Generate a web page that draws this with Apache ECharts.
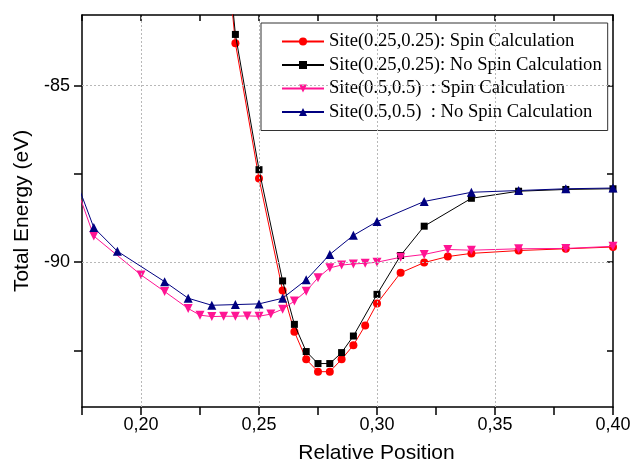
<!DOCTYPE html>
<html>
<head>
<meta charset="utf-8">
<script src="https://cdn.jsdelivr.net/npm/echarts@6/dist/echarts.min.js"></script>
<style>html,body{margin:0;padding:0;background:#fff}#c{width:632px;height:461px}</style>
</head>
<body>
<div id="c"></div>
<script>
// ---- data ----
const seriesNames = [
  'Site(0.25,0.25): Spin Calculation',
  'Site(0.25,0.25): No Spin Calculation',
  'Site(0.5,0.5)  : Spin Calculation',
  'Site(0.5,0.5)  : No Spin Calculation'
];
const redX = [0.23,0.24,0.25,0.26,0.265,0.27,0.275,0.28,0.285,0.29,0.295,0.30,0.31,0.32,0.33,0.34,0.36,0.38,0.40];
const redY = [-76.8,-83.80,-87.63,-90.80,-91.97,-92.75,-93.10,-93.10,-92.75,-92.35,-91.79,-91.17,-90.30,-90.01,-89.84,-89.75,-89.67,-89.62,-89.57];
const blackX = [0.23,0.24,0.25,0.26,0.265,0.27,0.275,0.28,0.285,0.29,0.30,0.31,0.32,0.34,0.36,0.38,0.40];
const blackY = [-76.6,-83.55,-87.38,-90.53,-91.76,-92.53,-92.87,-92.87,-92.56,-92.09,-90.91,-89.81,-88.98,-88.19,-87.99,-87.94,-87.92];
const pinkX = [0.17,0.18,0.20,0.21,0.22,0.225,0.23,0.235,0.24,0.245,0.25,0.255,0.26,0.265,0.27,0.275,0.28,0.285,0.29,0.295,0.30,0.31,0.32,0.33,0.34,0.36,0.38,0.40];
const pinkY = [-87.38,-89.26,-90.36,-90.83,-91.31,-91.50,-91.54,-91.53,-91.53,-91.52,-91.53,-91.47,-91.33,-91.10,-90.82,-90.44,-90.16,-90.08,-90.05,-90.03,-90.00,-89.86,-89.78,-89.64,-89.66,-89.62,-89.61,-89.55];
const blueX = [0.17,0.18,0.19,0.21,0.22,0.23,0.24,0.25,0.26,0.27,0.28,0.29,0.30,0.32,0.34,0.36,0.38,0.40];
const blueY = [-87.24,-89.02,-89.69,-90.55,-91.02,-91.22,-91.20,-91.18,-91.02,-90.50,-89.78,-89.24,-88.85,-88.28,-88.02,-87.97,-87.92,-87.90];

const xTicks = [0.175,0.20,0.225,0.25,0.275,0.30,0.325,0.35,0.375,0.40];
const xLabels = [0.20,0.25,0.30,0.35,0.40];
const yTicks = [-92.5,-90,-87.5,-85];
const yLabels = [-90,-85];
const xGrid = [0.20,0.25,0.30,0.35];
const yGrid = [-90,-85];

// ---- chart ----
const pairs = (xs, ys) => xs.map((x, i) => [x, ys[i]]);
const chart = echarts.init(document.getElementById('c'), null, {renderer: 'canvas'});
const FONT = '"Liberation Sans", Arial, sans-serif';
const SERIF = '"Liberation Serif", "Times New Roman", serif';
const X0 = 0.175, X1 = 0.40, Y0 = -94.1, Y1 = -83;

function xAxisCfg(top) {
  return {
    type: 'value', min: X0, max: X1, position: top ? 'top' : 'bottom',
    axisLine: {show: true, onZero: false, lineStyle: {color: '#000', width: 1.5}},
    axisTick: {show: true, inside: top, length: top ? 6 : 8, customValues: xTicks, lineStyle: {color: '#000', width: 1.5}},
    axisLabel: top ? {show: false} : {show: true, customValues: xLabels, margin: 9, fontSize: 18, color: '#000', fontFamily: FONT,
      formatter: v => v.toFixed(2).replace('.', ',')},
    splitLine: {show: false},
    name: top ? '' : 'Relative Position', nameLocation: 'middle', nameGap: 36,
    nameTextStyle: {fontSize: 21, color: '#000', fontFamily: FONT, padding: [0, 0, 0, 58]}
  };
}
function yAxisCfg(right) {
  return {
    type: 'value', min: Y0, max: Y1, position: right ? 'right' : 'left',
    axisLine: {show: true, onZero: false, lineStyle: {color: '#000', width: 1.5}},
    axisTick: {show: true, inside: right, length: right ? 6 : 8, customValues: yTicks, lineStyle: {color: '#000', width: 1.5}},
    axisLabel: right ? {show: false} : {show: true, customValues: yLabels, margin: 12, fontSize: 18, color: '#000', fontFamily: FONT,
      formatter: v => String(Math.round(v))},
    splitLine: {show: false},
    name: right ? '' : 'Total Energy (eV)', nameLocation: 'middle', nameGap: 43,
    nameTextStyle: {fontSize: 21, color: '#000', fontFamily: FONT}
  };
}

const styles = [
  {color: '#ff0000', symbol: 'circle', size: 8, rot: 0},
  {color: '#000000', symbol: 'rect', size: 7, rot: 0},
  {color: '#ff1493', symbol: 'triangle', size: 9, rot: 180},
  {color: '#000080', symbol: 'triangle', size: 9, rot: 0}
];
const dataSets = [pairs(redX, redY), pairs(blackX, blackY), pairs(pinkX, pinkY), pairs(blueX, blueY)];

const series = [{
  type: 'line', name: '_grid', data: [], z: 1, silent: true,
  markLine: {
    silent: true, symbol: 'none', animation: false,
    label: {show: false},
    lineStyle: {color: '#b8b8b8', width: 1, type: [2, 2]},
    data: xGrid.map(v => ({xAxis: v})).concat(yGrid.map(v => ({yAxis: v})))
  }
}];
seriesNames.forEach((n, i) => {
  const s = styles[i];
  series.push({
    type: 'line', name: n, data: dataSets[i], z: 2 + i, clip: true,
    symbol: s.symbol, symbolSize: s.size, symbolRotate: s.rot, showAllSymbol: true,
    itemStyle: {color: s.color}, lineStyle: {color: s.color, width: 1},
    animation: false
  });
});

chart.setOption({
  animation: false,
  backgroundColor: '#fff',
  grid: {left: 82, right: 19, top: 15, bottom: 54, containLabel: false, outerBoundsMode: 'none'},
  xAxis: [xAxisCfg(false), xAxisCfg(true)],
  yAxis: [yAxisCfg(false), yAxisCfg(true)],
  legend: {
    data: seriesNames, orient: 'vertical', left: 261, top: 23,
    backgroundColor: '#fff', borderColor: '#333', borderWidth: 1,
    padding: [9, 6, 9, 20], itemGap: 4.5, itemWidth: 42, itemHeight: 10,
    textStyle: {fontSize: 18.6, color: '#000', fontFamily: SERIF, lineHeight: 18}
  },
  series: series
});
</script>
</body>
</html>
